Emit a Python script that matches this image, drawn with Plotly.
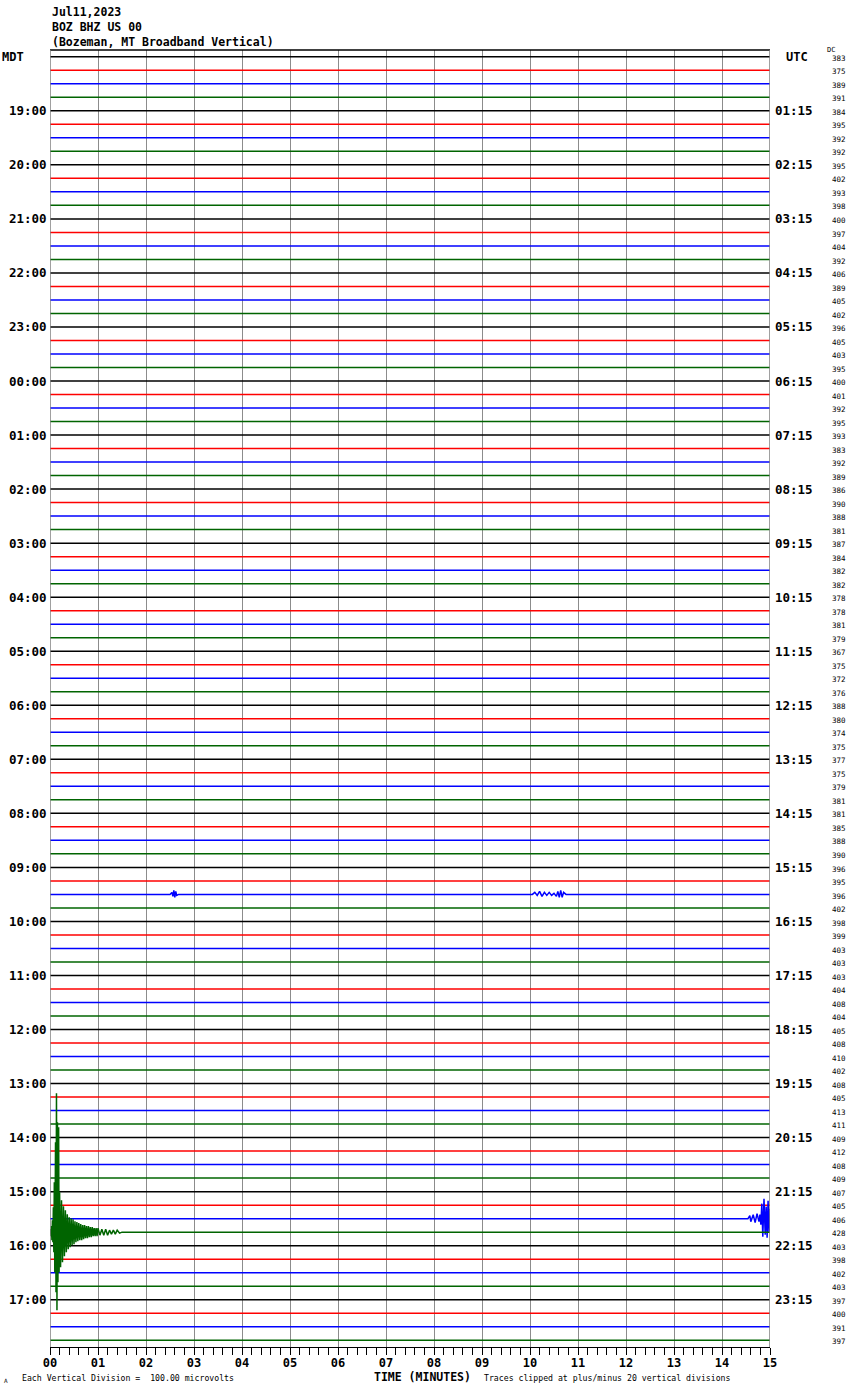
import plotly.graph_objects as go

# ---------------- data ----------------
title_lines = ["Jul11,2023", "BOZ BHZ US 00", "(Bozeman, MT Broadband Vertical)"]
trace_colors = ["#000000", "#ff0000", "#0000ff", "#006400"]
n_rows = 96
minutes = list(range(16))
minute_labels = ["%02d" % m for m in minutes]
left_hours = ["19:00", "20:00", "21:00", "22:00", "23:00", "00:00", "01:00", "02:00",
              "03:00", "04:00", "05:00", "06:00", "07:00", "08:00", "09:00", "10:00",
              "11:00", "12:00", "13:00", "14:00", "15:00", "16:00", "17:00"]
right_hours = ["01:15", "02:15", "03:15", "04:15", "05:15", "06:15", "07:15", "08:15",
               "09:15", "10:15", "11:15", "12:15", "13:15", "14:15", "15:15", "16:15",
               "17:15", "18:15", "19:15", "20:15", "21:15", "22:15", "23:15"]
dc_values = [383, 375, 389, 391, 384, 395, 392, 392, 395, 402, 393, 398, 400, 397, 404, 392,
             406, 389, 405, 402, 396, 405, 403, 395, 400, 401, 392, 395, 393, 383, 392, 389,
             386, 390, 388, 381, 387, 384, 382, 382, 378, 378, 381, 379, 367, 375, 372, 376,
             388, 380, 374, 375, 377, 375, 379, 381, 381, 385, 388, 390, 396, 395, 396, 402,
             398, 399, 403, 403, 403, 404, 408, 404, 405, 408, 410, 402, 408, 405, 413, 411,
             409, 412, 408, 409, 407, 405, 406, 428, 403, 398, 402, 403, 397, 400, 391, 397]

# events: row index, times (minutes), amplitude (1/13.5 of trace spacing)
quake_row = 87
quake_t = [0.0, 0.01, 0.02, 0.03, 0.04, 0.05, 0.06, 0.07, 0.08, 0.09, 0.10, 0.115, 0.125,
           0.135, 0.145, 0.155, 0.165, 0.18, 0.19,
           0.20, 0.22, 0.24, 0.26, 0.28, 0.30, 0.32, 0.34, 0.36, 0.38, 0.40, 0.42, 0.44,
           0.46, 0.48, 0.50, 0.52, 0.54, 0.56, 0.58, 0.60, 0.62, 0.64, 0.66, 0.68, 0.70,
           0.72, 0.74, 0.76, 0.78, 0.80, 0.82, 0.84, 0.86, 0.88, 0.90, 0.92, 0.94, 0.96,
           0.98, 1.00, 1.04, 1.08, 1.12, 1.16, 1.20, 1.24, 1.28, 1.32, 1.36, 1.40, 1.45, 1.50]
quake_amp = [0, 3, -4, 6, -8, 12, -10, 25, -20, 50, -40, 90, -60,
             139, -78, 110, -50, 105, -40,
             40, -35, 32, -30, 26, -24, 22, -20, 18, -17, 15, -15, 14,
             -13, 13, -12, 11, -10, 10, -9, 9, -8, 8, -8, 7, -7,
             7, -6, 6, -6, 6, -5, 5, -5, 5, -4, 4, -4, 4,
             -4, 4, -3, 3, -3, 3, -3, 2, -2, 2, -2, 2, -1, 0]

p_row = 86
p_t = [14.54, 14.58, 14.60, 14.65, 14.69, 14.73, 14.77, 14.79, 14.81, 14.83, 14.85,
       14.875, 14.90, 14.92, 14.94, 14.96, 14.98, 15.0]
p_amp = [0, 3, -3, 4, -4, 5, -3, 4, -6, 15, -18, 20, -16, 12, -19, 18, -14, 10]

blip_row = 62
blip1_t = [2.50, 2.54, 2.56, 2.58, 2.60, 2.62, 2.64, 2.68]
blip1_amp = [0, 2, -2, 4, -3, 3, -1, 0]
blip2_t = [10.05, 10.10, 10.15, 10.20, 10.25, 10.30, 10.35, 10.40, 10.45, 10.50, 10.55,
           10.58, 10.61, 10.64, 10.67, 10.70, 10.75]
blip2_amp = [0, 2, -1, 3, -2, 2, -1, 2, -1, 1, -2, 3, -3, 4, -3, 2, 0]

# ---------------- build ----------------
AMP_SCALE = 13.51
events = {
    quake_row: [(quake_t, quake_amp)],
    p_row: [(p_t, p_amp)],
    blip_row: [(blip1_t, blip1_amp), (blip2_t, blip2_amp)],
}

xs = {c: [] for c in range(4)}
ys = {c: [] for c in range(4)}
for r in range(n_rows):
    c = r % 4
    base = -r
    pts = [(0.0, 0.0), (15.0, 0.0)]
    for t_list, a_list in events.get(r, []):
        pts += list(zip(t_list, a_list))
    pts.sort(key=lambda p: p[0])
    for t, a in pts:
        xs[c].append(t)
        ys[c].append(base + a / AMP_SCALE)
    xs[c].append(None)
    ys[c].append(None)

fig = go.Figure()
for c in range(4):
    fig.add_trace(go.Scatter(x=xs[c], y=ys[c], mode="lines",
                             line=dict(color=trace_colors[c], width=1.5),
                             hoverinfo="skip", showlegend=False))

MONO = "DejaVu Sans Mono"
Y0, Y1 = -95.5, 0.5


def ypaper(v):
    return (v - Y0) / (Y1 - Y0)


ann = []
# header
for i, line in enumerate(title_lines):
    ann.append(dict(x=0, xref="paper", y=ypaper(3.33 - 1.11 * i), yref="paper", text="<b>%s</b>" % line,
                    xanchor="left", yanchor="middle", showarrow=False,
                    font=dict(family=MONO, size=11.5, color="black")))
ann.append(dict(x=0, xref="paper", xshift=-50, y=0, yref="y", text="<b>MDT</b>",
                xanchor="left", yanchor="middle", showarrow=False,
                font=dict(family=MONO, size=12, color="black")))
ann.append(dict(x=1, xref="paper", xshift=14, y=0, yref="y", text="<b>UTC</b>",
                xanchor="left", yanchor="middle", showarrow=False,
                font=dict(family=MONO, size=12, color="black")))
ann.append(dict(x=1, xref="paper", xshift=55, y=ypaper(0.5), yref="paper", text="DC",
                xanchor="left", yanchor="middle", showarrow=False,
                font=dict(family=MONO, size=7, color="black")))
for i, (lh, rh) in enumerate(zip(left_hours, right_hours)):
    row = 4 * (i + 1)
    ann.append(dict(x=0, xref="paper", xshift=-1, y=-row, yref="y", text="<b>%s</b>" % lh,
                    xanchor="right", yanchor="middle", showarrow=False,
                    font=dict(family=MONO, size=12.5, color="black")))
    ann.append(dict(x=1, xref="paper", xshift=3, y=-row, yref="y", text="<b>%s</b>" % rh,
                    xanchor="left", yanchor="middle", showarrow=False,
                    font=dict(family=MONO, size=12.5, color="black")))
for r, v in enumerate(dc_values):
    ann.append(dict(x=1, xref="paper", xshift=60, y=-r - 0.12, yref="y", text=str(v),
                    xanchor="left", yanchor="middle", showarrow=False,
                    font=dict(family=MONO, size=7.5, color="black")))
# bottom texts
ann.append(dict(x=7.75 / 15, xref="paper", y=ypaper(-97.75), yref="paper", text="<b>TIME (MINUTES)</b>",
                xanchor="center", yanchor="middle", showarrow=False,
                font=dict(family=MONO, size=11.5, color="black")))
ann.append(dict(x=0, xref="paper", xshift=-30, y=ypaper(-97.8), yref="paper",
                text="Each Vertical Division =  100.00 microvolts",
                xanchor="left", yanchor="middle", showarrow=False,
                font=dict(family=MONO, size=8.2, color="black")))
ann.append(dict(x=0, xref="paper", xshift=432, y=ypaper(-97.8), yref="paper",
                text="Traces clipped at plus/minus 20 vertical divisions",
                xanchor="left", yanchor="middle", showarrow=False,
                font=dict(family=MONO, size=8.2, color="black")))
ann.append(dict(x=0, xref="paper", xshift=-48, y=ypaper(-97.95), yref="paper", text="A",
                xanchor="left", yanchor="middle", showarrow=False,
                font=dict(family=MONO, size=6, color="black")))

shapes = [
    dict(type="line", xref="x", yref="paper", x0=0, x1=15, y0=1, y1=1,
         line=dict(color="black", width=1.5)),
    dict(type="line", xref="x", yref="paper", x0=0, x1=0, y0=0, y1=1,
         line=dict(color="#808080", width=1.5)),
    dict(type="line", xref="x", yref="paper", x0=15, x1=15, y0=0, y1=1,
         line=dict(color="#808080", width=1.5)),
]

fig.update_layout(
    width=850, height=1390,
    margin=dict(l=50, r=80, t=50, b=43, pad=0),
    paper_bgcolor="white", plot_bgcolor="white",
    annotations=ann, shapes=shapes,
    xaxis=dict(range=[0, 15], tickvals=minutes, ticktext=minute_labels,
               showgrid=True, gridcolor="#8c8c8c", gridwidth=1,
               zeroline=False, showline=True, linecolor="black", linewidth=1,
               ticks="outside", ticklen=7, tickcolor="black", tickwidth=1,
               minor=dict(dtick=0.2, ticks="outside", ticklen=7, tickcolor="black",
                          tickwidth=1, showgrid=False),
               tickfont=dict(family=MONO, size=12, color="black", weight="bold"),
               ticklabelstandoff=-2,
               fixedrange=True),
    yaxis=dict(range=[Y0, Y1], showgrid=False, zeroline=False, showticklabels=False,
               showline=False, ticks="", fixedrange=True),
)
# remove the default page margin so the 850x1390 figure fills the window exactly
fig.write_html("out.html",
               config={"displayModeBar": False, "staticPlot": True},
               post_script="document.body.style.margin='0';document.body.style.overflow='hidden';")
